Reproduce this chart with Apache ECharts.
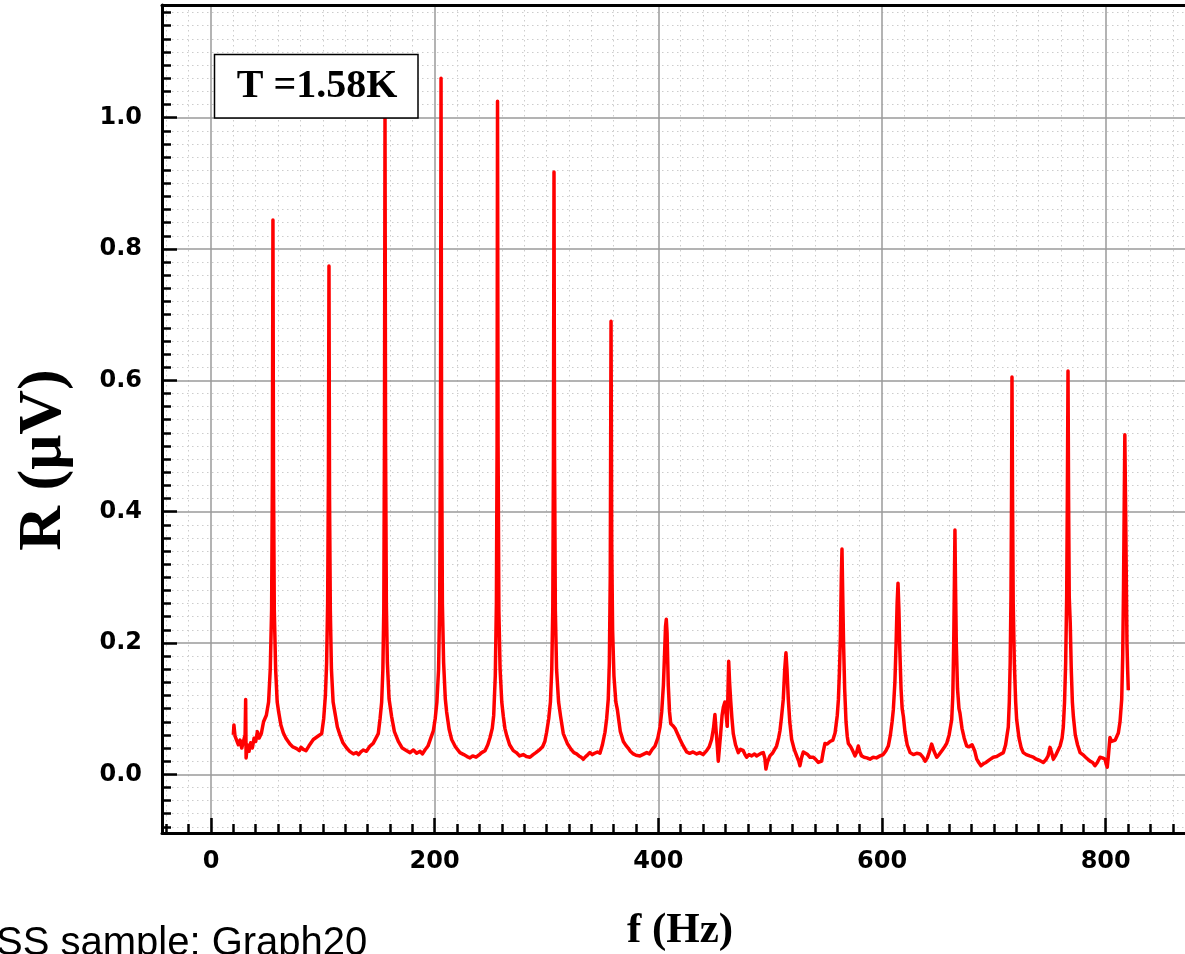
<!DOCTYPE html>
<html>
<head>
<meta charset="utf-8">
<script src="https://cdn.jsdelivr.net/npm/echarts@6/dist/echarts.min.js"></script>
<style>
html,body{margin:0;padding:0;background:#fff;}
#chart{width:1185px;height:954px;}
</style>
</head>
<body>
<div id="chart"></div>
<script>
// ---- Data: [f (Hz), R (uV)] ----
const band1 = [
[20.0,0.060],[20.5,0.075],[21.5,0.058],[23,0.055],[24.5,0.045],[26,0.052],[27.5,0.040],[29,0.050],[30.5,0.060],[31.0,0.114],[31.4,0.025],
[32.5,0.045],[34,0.035],[35.5,0.048],[37,0.040],[38.5,0.055],[40,0.050],[41.5,0.065],[43,0.055],[45,0.062],[47,0.080],
[49.5,0.090],[51.5,0.110],[53.0,0.160],[54.2,0.250],[54.9,0.450],[55.4,0.844],[55.9,0.450],[56.6,0.250],[57.8,0.160],[59.2,0.110],
[60.5,0.095],[62.5,0.075],[64.7,0.063],[67,0.055],[70.6,0.046],[73,0.042],[76.6,0.039],[79,0.036],[80.5,0.041],[82.5,0.038],[85,0.036],
[87.5,0.043],[89.5,0.048],[91.5,0.053],[94,0.056],[96.5,0.059],[99,0.062],
[100.8,0.085],[102.3,0.120],[103.4,0.170],[104.3,0.260],[105.0,0.450],[105.5,0.774],[106.0,0.420],[106.7,0.250],[107.7,0.160],[109.2,0.110],
[110.7,0.095],[113,0.072],[115.3,0.060],[118,0.048],[121.3,0.040],[124,0.035],[127.3,0.031],[130,0.033],[132,0.030],[134,0.034],[136.2,0.037],
[139,0.035],[142.2,0.043],[145,0.047],[147.5,0.055],[149.6,0.062],
[151.2,0.085],[152.6,0.110],[153.7,0.160],[154.5,0.250],[155.1,0.500],[155.6,0.999],[156.1,0.500],[156.8,0.260],[157.7,0.170],[159.2,0.115],
[161.5,0.088],[164,0.065],[167.5,0.050],[171,0.040],[175,0.036],[178,0.033],[181,0.037],[183.9,0.032],[187,0.035],[189,0.031],[191.3,0.037],
[194,0.043],[196.5,0.055],[198.8,0.066]
];
const band2 = [
[200.5,0.085],[202,0.110],[203.5,0.160],[204.5,0.260],[205.2,0.520],[205.7,1.060],[206.2,0.520],[206.9,0.260],[208,0.170],[209.5,0.115],
[210.7,0.095],[213,0.068],[215.2,0.053],[218.5,0.042],[222.6,0.033],[226,0.030],[229,0.027],[231.6,0.025],[234,0.028],[237,0.026],[240,0.030],
[242,0.033],[245,0.036],[247.5,0.045],[249.5,0.056],
[251.5,0.070],[252.8,0.090],[254.2,0.150],[255.2,0.260],[255.8,0.500],[256.2,1.025],[256.7,0.500],[257.4,0.250],[258.5,0.160],[260,0.110],
[261.4,0.088],[262.8,0.070],[264.4,0.059],[267,0.045],[270.3,0.036],[273,0.033],[276,0.028],[279.2,0.030],[282,0.027],[285.2,0.026],[288,0.030],
[290.5,0.033],[292,0.030],[294.2,0.038],[296.5,0.042],[298.5,0.050],[300.1,0.064],
[302,0.085],[303.5,0.110],[304.7,0.160],[305.6,0.250],[306.2,0.480],[306.7,0.917],[307.2,0.480],[307.9,0.250],[309,0.160],[310.8,0.110],
[312.6,0.088],[315,0.062],[318.6,0.047],[322,0.038],[324.5,0.033],[326.9,0.031],[329,0.028],[331,0.026],[332.9,0.023],[335,0.027],[337,0.030],
[338.8,0.033],[341,0.030],[343,0.032],[345.5,0.034],[347.8,0.032],[350,0.045],[352.3,0.064],
[353.8,0.085],[355.2,0.114],[356.2,0.170],[357.0,0.300],[357.7,0.690],[358.3,0.350],[359.1,0.220],[360.3,0.150],[362,0.110],
[363.4,0.098],[366,0.065],[368.7,0.050],[371,0.044],[373,0.040],[375,0.035],[377.6,0.031],[380,0.029],[383.6,0.028],[386,0.030],[389.6,0.033],
[392,0.031],[394.5,0.038],[397,0.043],[399.5,0.055],[401.5,0.072]
];
const band3 = [
[403,0.095],[404.5,0.135],[405.6,0.185],[406.4,0.225],[407.1,0.236],[407.8,0.215],[408.9,0.135],[410,0.095],[411.1,0.077],[413,0.074],
[414.9,0.070],[417,0.062],[419.4,0.053],[422,0.044],[425.3,0.034],[428,0.032],[431,0.034],[434.3,0.031],[437,0.033],[440,0.030],[443.2,0.036],
[445.5,0.042],[447.6,0.053],[449.3,0.070],[450.6,0.091],[451.7,0.065],[452.7,0.043],[453.6,0.020],[454.6,0.040],[455.7,0.062],[457,0.090],
[458.1,0.102],[459.5,0.110],[460.5,0.112],[461.6,0.073],[462.3,0.130],[462.9,0.172],[463.7,0.140],[464.7,0.112],[465.8,0.085],[467,0.062],
[469,0.045],[471.5,0.033],[473.5,0.038],[475.9,0.036],[477.5,0.030],[478.9,0.026],[481,0.030],[483.5,0.028],[486,0.031],[487.9,0.028],[490,0.030],
[492,0.032],[493.8,0.033],[495.2,0.025],[496.2,0.008],[497.5,0.018],[499.8,0.028],[502,0.032],[505.7,0.043],[507.5,0.055],[508.7,0.066],
[510,0.085],[511.7,0.114],[513,0.160],[514.1,0.185],[515,0.160],[516.2,0.114],[517.5,0.080],[519.2,0.053],[521.5,0.038],[523.7,0.028],
[525.5,0.020],[526.6,0.013],[528,0.025],[529.6,0.034],[531.1,0.033],[533.5,0.030],[535.6,0.026],[538.6,0.026],[541,0.022],[543,0.018],
[544.5,0.016],[546,0.020],[547.5,0.035],[549,0.047],[551,0.046],[553.5,0.050],[556,0.052],[558,0.063],
[560,0.090],[561,0.114],[562,0.160],[562.8,0.210],[563.6,0.300],[564.2,0.343],[564.8,0.280],[565.6,0.200],[566.6,0.130],[567.8,0.080],
[568.9,0.058],[569.9,0.047],[572,0.042],[574,0.035],[575.9,0.028],[577.2,0.033],[578.8,0.043],[580.2,0.034],[581.8,0.028],[584,0.026],
[586.5,0.025],[589.2,0.023],[592,0.026],[595,0.025],[598.2,0.028],[601,0.030],[603.5,0.036],[605.6,0.043],[607.5,0.060],[609,0.080],[610.1,0.098]
];
const band4 = [
[611.5,0.140],[612.6,0.200],[613.5,0.260],[614.3,0.291],[615.1,0.250],[615.9,0.190],[617,0.130],[618,0.100],[619.1,0.088],[620.5,0.065],
[622.5,0.045],[625.1,0.033],[628,0.030],[631,0.032],[634,0.031],[636.5,0.026],[638.5,0.020],[640.5,0.025],[642.5,0.035],[644.4,0.046],
[646.5,0.035],[648.9,0.026],[651,0.030],[653.5,0.036],[656,0.042],[657.8,0.047],[660,0.060],[661.5,0.075],[662.3,0.083],
[663.3,0.120],[664.1,0.200],[664.7,0.290],[665.2,0.372],[665.7,0.290],[666.4,0.200],[667.5,0.130],[668.8,0.100],[669.7,0.093],[671.5,0.070],
[673.5,0.055],[675.7,0.043],[678,0.042],[680.5,0.045],[681.7,0.047],[683,0.035],[684.7,0.023],[686.5,0.018],[688.5,0.013],[690.6,0.016],
[693,0.018],[696,0.022],[699.5,0.026],[702.5,0.027],[705.5,0.030],[708.5,0.033],[710.5,0.045],[712,0.062],[712.9,0.072],
[713.8,0.110],[714.6,0.170],[715.3,0.270],[715.8,0.420],[716.2,0.605],[716.7,0.420],[717.3,0.260],[718.3,0.170],[719.5,0.110],[720.4,0.083],
[722.5,0.055],[724.5,0.040],[726.3,0.033],[729,0.030],[732,0.028],[735.3,0.026],[738,0.023],[741,0.021],[744.2,0.018],[746.5,0.022],
[748.5,0.028],[750.2,0.041],[751.8,0.032],[753.2,0.023],[755,0.028],[757.2,0.036],[759.2,0.043],[761,0.055],[762.1,0.072],
[763.2,0.110],[764.2,0.170],[765.1,0.270],[765.7,0.420],[766.3,0.614],[766.8,0.420],[767.4,0.270],[768.3,0.230],[769.2,0.160],[770.2,0.110],
[771.1,0.088],[772.8,0.060],[774.8,0.045],[777.1,0.033],[779.5,0.030],[782,0.026],[784,0.023],[786,0.020],[788.3,0.018],[790.4,0.013],
[792.5,0.018],[794.9,0.026],[797,0.025],[799.4,0.023],[800.5,0.015],[801.4,0.011],[802.5,0.030],[803.8,0.056],[805.3,0.050],[806.8,0.047],
[808.5,0.052],[810,0.058],[811.3,0.063],[812.8,0.080],[814.3,0.114],[815.2,0.180],[815.9,0.280],[816.5,0.400],[817.1,0.517],[817.7,0.420],
[818.4,0.300],[819,0.200],[819.6,0.160],[820.2,0.128]
];

// ---- Axes / ticks ----
const xRange = [-43.8, 870.9];
const yRange = [-0.0894, 1.1715];
const xMajorTicks = [0, 200, 400, 600, 800];
const yMajorTicks = [0.0, 0.2, 0.4, 0.6, 0.8, 1.0];
const xMinorStep = 20;
const yMinorStep = 0.02;
const legendText = 'T =1.58K';
const xTitle = 'f (Hz)';
const yTitle = 'R (\u03bcV)';
const footText = 'SS sample: Graph20';

function minorValues(lo, hi, step, majors) {
  const out = [];
  const start = Math.ceil(lo / step - 1e-9);
  const end = Math.floor(hi / step + 1e-9);
  for (let i = start; i <= end; i++) {
    const v = +(i * step).toFixed(6);
    if (!majors.some(m => Math.abs(m - v) < step / 10)) out.push(v);
  }
  return out;
}
const xMinorTicks = minorValues(xRange[0], xRange[1], xMinorStep, xMajorTicks);
const yMinorTicks = minorValues(yRange[0], yRange[1], yMinorStep, yMajorTicks);

const spectrum = band1.concat(band2, band3, band4);

const labelFont = {color: '#000', fontFamily: 'DejaVu Sans', fontWeight: 'bold', fontSize: 24};
const chart = echarts.init(document.getElementById('chart'), null, {renderer: 'canvas'});
chart.setOption({
  animation: false,
  backgroundColor: '#fff',
  grid: {left: 162, top: 5, right: 0, bottom: 121, containLabel: false, outerBoundsMode: 'none'},
  xAxis: [
    {
      type: 'value', position: 'bottom', min: xRange[0], max: xRange[1],
      axisLine: {show: true, onZero: false, lineStyle: {color: '#000', width: 3}},
      axisTick: {show: true, inside: true, length: 15, customValues: xMajorTicks, lineStyle: {color: '#000', width: 2.5}},
      axisLabel: {show: true, customValues: xMajorTicks, margin: 17, formatter: v => String(Math.round(v)), ...labelFont},
      splitLine: {show: true, lineStyle: {color: '#9a9a9a', width: 1.5}},
      z: 5
    },
    {
      type: 'value', position: 'bottom', min: xRange[0], max: xRange[1],
      axisLine: {show: false, onZero: false},
      axisTick: {show: true, inside: true, length: 9, customValues: xMinorTicks, lineStyle: {color: '#000', width: 2.5}},
      axisLabel: {show: false},
      splitLine: {show: true, lineStyle: {color: '#cccccc', width: 1, type: [1.5, 3.5]}},
      z: 4
    },
    {
      type: 'value', position: 'top', min: xRange[0], max: xRange[1],
      axisLine: {show: true, onZero: false, lineStyle: {color: '#000', width: 3}},
      axisTick: {show: false}, axisLabel: {show: false}, splitLine: {show: false},
      z: 5
    }
  ],
  yAxis: [
    {
      type: 'value', position: 'left', min: yRange[0], max: yRange[1],
      axisLine: {show: true, onZero: false, lineStyle: {color: '#000', width: 3}},
      axisTick: {show: true, inside: true, length: 15, customValues: yMajorTicks, lineStyle: {color: '#000', width: 2.5}},
      axisLabel: {show: true, customValues: yMajorTicks, margin: 20, formatter: v => v.toFixed(1), ...labelFont},
      splitLine: {show: true, lineStyle: {color: '#9a9a9a', width: 1.5}},
      z: 5
    },
    {
      type: 'value', position: 'left', min: yRange[0], max: yRange[1],
      axisLine: {show: false, onZero: false},
      axisTick: {show: true, inside: true, length: 9, customValues: yMinorTicks, lineStyle: {color: '#000', width: 2.5}},
      axisLabel: {show: false},
      splitLine: {show: true, lineStyle: {color: '#cccccc', width: 1, type: [1.5, 3.5]}},
      z: 4
    }
  ],
  series: [{
    type: 'line', xAxisIndex: 0, yAxisIndex: 0,
    data: spectrum, showSymbol: false, symbol: 'none',
    lineStyle: {color: '#ff0000', width: 3.5, join: 'round'}, clip: true, z: 10
  }],
  graphic: [
    {type: 'rect', z: 100, shape: {x: 214.5, y: 54.5, width: 203.5, height: 63.5},
     style: {fill: '#fff', stroke: '#000', lineWidth: 1.5}},
    {type: 'text', z: 101, x: 317, y: 87,
     style: {text: legendText, font: 'bold 40px "Liberation Serif"', fill: '#000', align: 'center', verticalAlign: 'middle', textAlign: 'center', textVerticalAlign: 'middle'}},
    {type: 'text', z: 101, x: 44, y: 460, rotation: Math.PI / 2,
     style: {text: yTitle, font: 'bold 62px "Liberation Serif"', fill: '#000', align: 'center', verticalAlign: 'middle', textAlign: 'center', textVerticalAlign: 'middle'}},
    {type: 'text', z: 101, x: 680, y: 931,
     style: {text: xTitle, font: 'bold 43px "Liberation Serif"', fill: '#000', align: 'center', verticalAlign: 'middle', textAlign: 'center', textVerticalAlign: 'middle'}},
    {type: 'text', z: 101, x: -4, y: 944,
     style: {text: footText, font: '40px "Liberation Sans"', fill: '#000', align: 'left', verticalAlign: 'middle', textAlign: 'left', textVerticalAlign: 'middle'}}
  ]
});
</script>
</body>
</html>
